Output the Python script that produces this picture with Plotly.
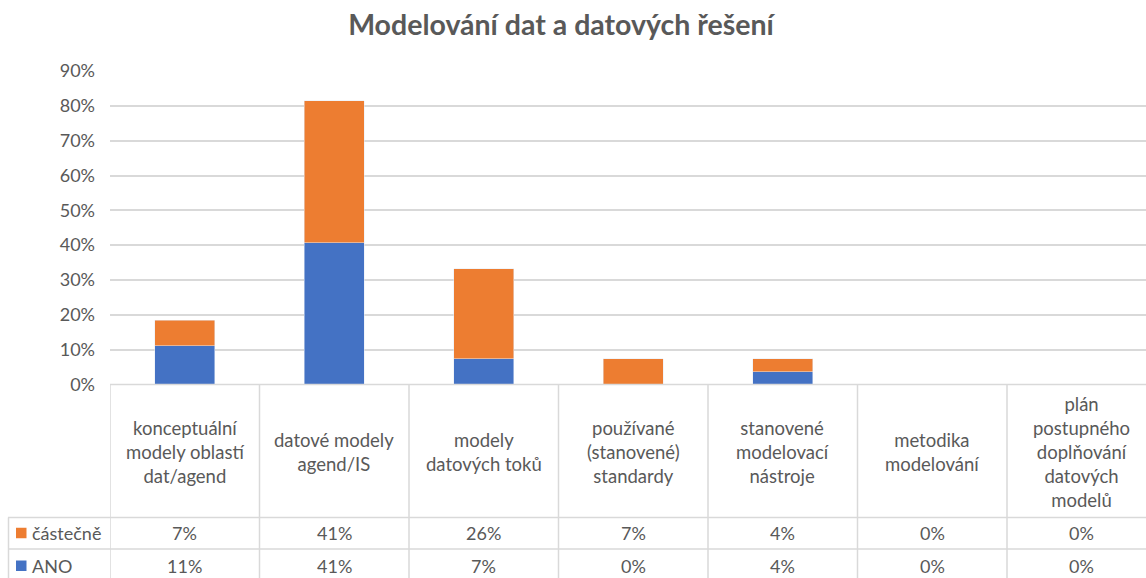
import plotly.graph_objects as go

categories = [
    "konceptuální<br>modely oblastí<br>dat/agend",
    "datové modely<br>agend/IS",
    "modely<br>datových toků",
    "používané<br>(stanovené)<br>standardy",
    "stanovené<br>modelovací<br>nástroje",
    "metodika<br>modelování",
    "plán<br>postupného<br>doplňování<br>datových<br>modelů",
]
series_names = ["částečně", "ANO"]
castecne = [0.074, 0.407, 0.259, 0.074, 0.037, 0.0, 0.0]
ano = [0.111, 0.407, 0.074, 0.0, 0.037, 0.0, 0.0]
y_ticks = [0, 0.1, 0.2, 0.3, 0.4, 0.5, 0.6, 0.7, 0.8, 0.9]

ORANGE = "#ED7D31"
BLUE = "#4472C4"
TXT = "#595959"
GRID = "#D9D9D9"
FONT = "Lato"

W, H = 1146, 578
OFF = 0  # body margin removed via post_script
def px(x): return (x - OFF) / W
def py(y): return 1 - (y - OFF) / H

x_idx = list(range(len(categories)))
fig = go.Figure()
fig.add_trace(go.Bar(x=x_idx, y=ano, name=series_names[1], marker_color=BLUE, width=0.4))
fig.add_trace(go.Bar(x=x_idx, y=castecne, name=series_names[0], marker_color=ORANGE, width=0.4))

col_w = 149.5
left = 110
n = len(categories)
right_px = OFF + W
x_max = -0.5 + (right_px - left) / col_w

shapes = []
ann = []
table_top = 384.5
row1 = 517.5
row2 = 549
bottom = 600
line = dict(color=GRID, width=1.5)
shapes.append(dict(type="line", xref="paper", yref="paper", x0=px(left), x1=1, y0=py(table_top), y1=py(table_top), line=line))
for yy in (row1, row2):
    shapes.append(dict(type="line", xref="paper", yref="paper", x0=px(8), x1=1, y0=py(yy), y1=py(yy), line=line))
for i in range(n):
    shapes.append(dict(type="line", xref="x", yref="paper", x0=i - 0.5, x1=i - 0.5, y0=py(table_top), y1=py(bottom), line=line))
shapes.append(dict(type="line", xref="paper", yref="paper", x0=px(8.5), x1=px(8.5), y0=py(row1), y1=py(bottom), line=line))

for i, c in enumerate(categories):
    ann.append(dict(x=i, xref="x", y=py((table_top + row1) / 2 + 1), yref="paper", text=c, showarrow=False,
                    font=dict(family=FONT, size=18.5, color=TXT), align="center", xanchor="center", yanchor="middle"))
rows = [(castecne, ORANGE, series_names[0], (row1 + row2) / 2), (ano, BLUE, series_names[1], (row2 + 583) / 2)]
for vals, col, name, yc in rows:
    for i, v in enumerate(vals):
        ann.append(dict(x=i, xref="x", y=py(yc), yref="paper", text=f"{round(v * 100)}%", showarrow=False,
                        font=dict(family=FONT, size=18, color=TXT), xanchor="center", yanchor="middle"))
    shapes.append(dict(type="rect", xref="paper", yref="paper", x0=px(16), x1=px(26.5), y0=py(yc - 5.5), y1=py(yc + 5),
                       fillcolor=col, line=dict(width=0)))
    ann.append(dict(x=px(30), xref="paper", y=py(yc), yref="paper", text=name, showarrow=False,
                    font=dict(family=FONT, size=18, color=TXT), xanchor="left", yanchor="middle"))

fig.update_layout(
    width=W, height=H,
    margin=dict(l=0, r=0, t=0, b=0, autoexpand=False),
    paper_bgcolor="white", plot_bgcolor="white",
    barmode="stack", showlegend=False,
    title=dict(text="<b>Modelování dat a datových řešení</b>", x=px(561), xanchor="center", xref="paper",
               y=py(25), yanchor="middle", yref="paper", automargin=False,
               font=dict(family=FONT, size=28.5, color=TXT)),
    xaxis=dict(domain=[px(left), 1], range=[-0.5, x_max], showticklabels=False, showgrid=False,
               zeroline=False, showline=False, fixedrange=True, automargin=False),
    yaxis=dict(domain=[py(table_top), py(71)], range=[0, 0.9], tickvals=y_ticks, tickformat=".0%",
               showgrid=True, gridcolor=GRID, gridwidth=1.5, zeroline=False, showline=False, automargin=False,
               tickfont=dict(family=FONT, size=18, color=TXT), ticklabelstandoff=14),
    shapes=shapes, annotations=ann,
)
fig.write_html("out.html", config={"displayModeBar": False},
               post_script="document.body.style.margin='0';document.body.style.overflow='hidden';")
